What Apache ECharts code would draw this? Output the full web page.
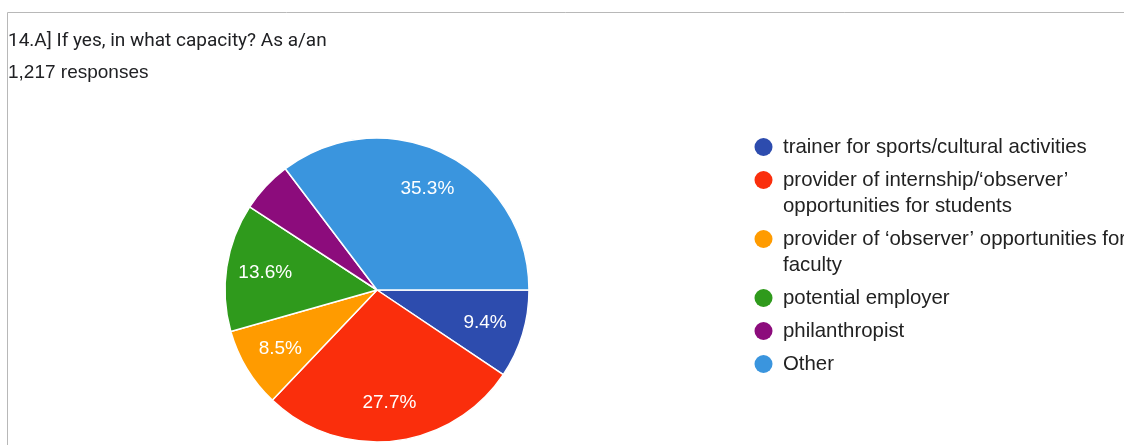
<!DOCTYPE html>
<html>
<head>
<meta charset="utf-8">
<script src="https://cdn.jsdelivr.net/npm/echarts@6/dist/echarts.min.js"></script>
<style>
  html, body { margin: 0; padding: 0; background: #ffffff; }
  #chart { width: 1124px; height: 445px; }
</style>
</head>
<body>
<div id="chart"></div>
<script>
// Survey question and response count
const questionTitle = '14.A] If yes, in what capacity? As a/an';
const responseCount = '1,217 responses';

// Answer options (legend text, line breaks as shown in the legend)
const categories = [
  'trainer for sports/cultural activities',
  'provider of internship/‘observer’\nopportunities for students',
  'provider of ‘observer’ opportunities for\nfaculty',
  'potential employer',
  'philanthropist',
  'Other'
];

// Share of responses per option, in percent
const percentages = [9.4, 27.7, 8.5, 13.6, 5.5, 35.3];

// Slice colours, same order as the options
const sliceColors = ['#2d4cae', '#fa2e0c', '#ff9b00', '#2f9a1c', '#8c0c7c', '#3a95de'];

const chart = echarts.init(document.getElementById('chart'), null, { renderer: 'canvas' });

const pieCenter = [377, 290];
const pieRadius = 152;
const legendFont = 'Liberation Sans, Arial, sans-serif';
const legendLineHeight = 26;
const legendRowGap = 33;
const legendFirstCenter = 147;
const markerBoxWidth = 29;
const markerSize = 18;

// Legend marker: a dot sitting at the top of a box as tall as the entry text,
// so wrapped entries keep their dot beside the first line.
function markerPath(boxHeight) {
  const r = markerSize / 2;
  const cx = markerBoxWidth / 2;
  return 'path://M0,0M' + markerBoxWidth + ',' + boxHeight +
    'M' + (cx - r) + ',' + r +
    'a' + r + ',' + r + ' 0 1,0 ' + (2 * r) + ',0' +
    'a' + r + ',' + r + ' 0 1,0 ' + (-2 * r) + ',0Z';
}

// one legend block per option
const legends = [];
let rowCenter = legendFirstCenter;
categories.forEach(function (name) {
  const lines = name.split('\n').length;
  const boxHeight = markerSize + legendLineHeight * (lines - 1);
  legends.push({
    data: [name],
    orient: 'vertical',
    left: 749,
    top: rowCenter - legendLineHeight / 2,
    padding: 0,
    icon: markerPath(boxHeight),
    itemWidth: markerBoxWidth,
    itemHeight: boxHeight,
    selectedMode: false,
    itemStyle: { borderWidth: 0 },
    textStyle: {
      fontFamily: legendFont,
      fontSize: 20.4,
      color: '#222222',
      lineHeight: legendLineHeight
    }
  });
  rowCenter += legendRowGap + legendLineHeight * (lines - 1);
});

const sliceData = categories.map(function (name, i) {
  return { name: name, value: percentages[i], itemStyle: { color: sliceColors[i] } };
});

chart.setOption({
  animation: false,
  backgroundColor: '#ffffff',
  title: {
    text: questionTitle,
    subtext: responseCount,
    left: 8,
    top: 32,
    padding: 0,
    itemGap: 12,
    textStyle: { fontFamily: 'Roboto', fontSize: 19, fontWeight: 'normal', color: '#202124' },
    subtextStyle: { fontFamily: legendFont, fontSize: 19, color: '#202124' }
  },
  graphic: [{
    type: 'polyline',
    silent: true,
    shape: { points: [[7.5, 445], [7.5, 12.5], [1124, 12.5]] },
    style: { stroke: '#b8b8b8', lineWidth: 1, fill: null }
  }],
  legend: legends,
  series: [
    {
      // coloured slices
      type: 'pie',
      center: pieCenter,
      radius: pieRadius,
      startAngle: 0,
      clockwise: true,
      silent: true,
      data: sliceData,
      itemStyle: { borderColor: '#ffffff', borderWidth: 1.5 },
      label: { show: false },
      labelLine: { show: false }
    },
    {
      // transparent ring carrying the percentage labels at ~70% of the radius
      type: 'pie',
      center: pieCenter,
      radius: [68, pieRadius],
      startAngle: 0,
      clockwise: true,
      silent: true,
      minShowLabelAngle: 21,
      data: categories.map(function (name, i) {
        return { name: name, value: percentages[i] };
      }),
      itemStyle: { color: 'rgba(0,0,0,0)', borderWidth: 0 },
      label: {
        show: true,
        position: 'inside',
        formatter: function (p) { return p.value + '%'; },
        color: '#ffffff',
        fontFamily: legendFont,
        fontSize: 19
      },
      labelLine: { show: false }
    }
  ]
});
</script>
</body>
</html>
